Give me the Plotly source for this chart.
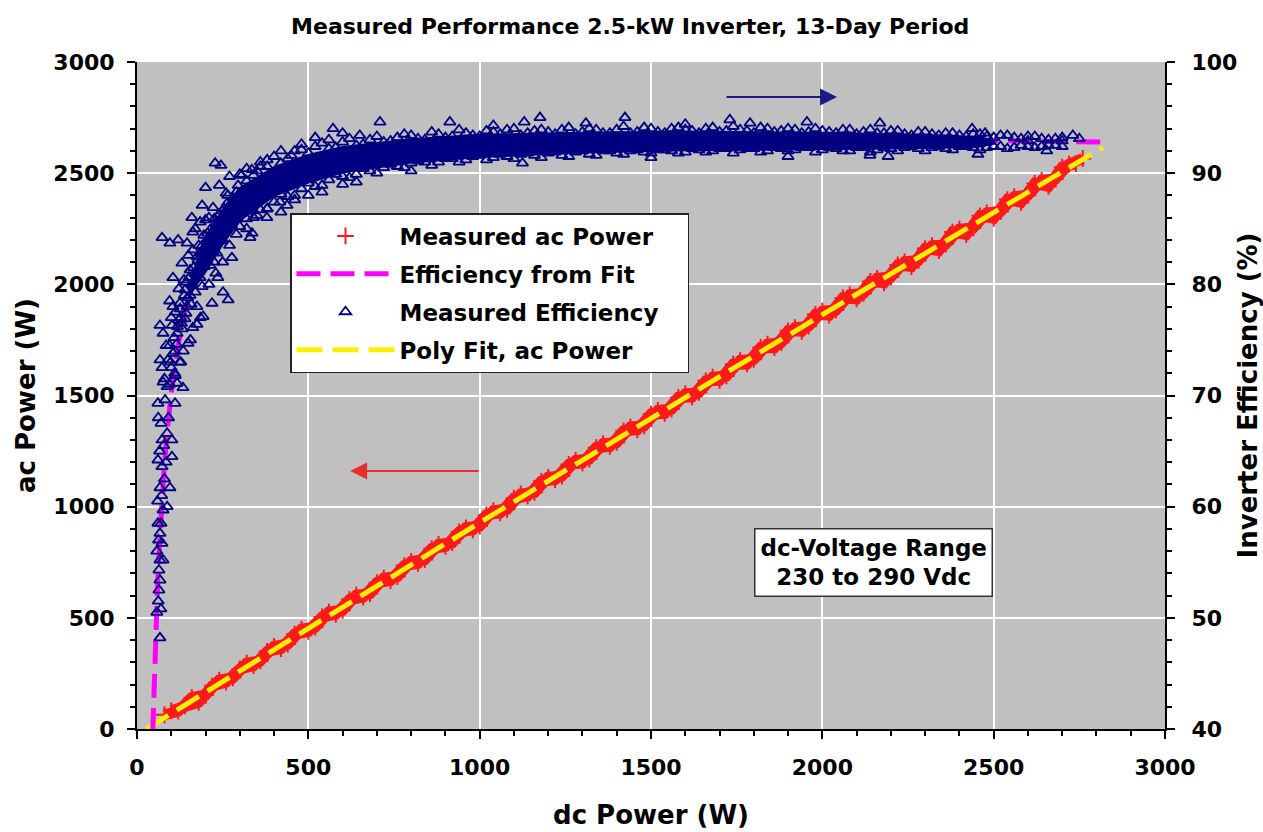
import plotly.graph_objects as go

# ---------------- data ----------------
# Measured ac power (W) vs dc power (W)
ac_dc = [80, 120, 160, 200, 240, 280, 320, 360, 400, 440, 480, 520, 560, 600, 640, 680,
         720, 760, 800, 840, 880, 920, 960, 1000, 1040, 1080, 1120, 1160, 1200, 1240, 1280,
         1320, 1360, 1400, 1440, 1480, 1520, 1560, 1600, 1640, 1680, 1720, 1760, 1800, 1840,
         1880, 1920, 1960, 2000, 2040, 2080, 2120, 2160, 2200, 2240, 2280, 2320, 2360, 2400,
         2440, 2480, 2520, 2560, 2600, 2640, 2680, 2720, 2760]
ac_meas = [64, 80, 141, 153, 220, 230, 296, 306, 372, 382, 449, 458, 526, 534, 602, 609,
           678, 686, 754, 762, 830, 838, 905, 913, 982, 988, 1057, 1064, 1132, 1138, 1208,
           1214, 1283, 1289, 1358, 1364, 1433, 1439, 1507, 1514, 1582, 1588, 1657, 1663, 1731,
           1738, 1805, 1812, 1879, 1885, 1953, 1959, 2027, 2033, 2101, 2107, 2174, 2181, 2248,
           2254, 2321, 2328, 2394, 2401, 2468, 2474, 2541, 2566]
ac_dc2 = [100, 140, 180, 220, 260, 300, 340, 380, 420, 460, 500, 540, 580, 620, 660, 700,
          740, 780, 820, 860, 900, 940, 980, 1020, 1060, 1100, 1140, 1180, 1220, 1260, 1300,
          1340, 1380, 1420, 1460, 1500, 1540, 1580, 1620, 1660, 1700, 1740, 1780, 1820, 1860,
          1900, 1940, 1980, 2020, 2060, 2100, 2140, 2180, 2220, 2260, 2300, 2340, 2380, 2420,
          2460, 2500, 2540, 2580, 2620, 2660, 2700, 2740]
ac_meas2 = [82, 104, 120, 194, 211, 270, 285, 349, 362, 427, 439, 504, 516, 582, 593, 658,
            668, 735, 745, 811, 821, 887, 896, 963, 972, 1038, 1048, 1114, 1122, 1190, 1197,
            1266, 1271, 1341, 1346, 1416, 1420, 1491, 1494, 1566, 1568, 1641, 1642, 1716, 1715,
            1791, 1789, 1865, 1862, 1939, 1935, 2013, 2007, 2087, 2080, 2161, 2152, 2235, 2224,
            2308, 2297, 2381, 2369, 2454, 2441, 2527, 2543]

# Poly fit of ac power
poly_dc = [27, 100, 200, 400, 600, 800, 1000, 1250, 1500, 1750, 2000, 2250, 2500, 2819]
poly_ac = [0, 70.2, 166.2, 357.7, 548.5, 738.5, 927.8, 1163.4, 1397.8, 1631.1, 1863.3,
           2094.3, 2324.1, 2615.7]

# Efficiency from fit (%)
fit_dc = [46, 50, 55, 60, 65, 70, 80, 90, 100, 120, 140, 170, 200, 250, 300, 400, 500,
          700, 1000, 1300, 1600, 2000, 2400, 2819]
fit_eff = [39.74, 44.25, 48.98, 52.91, 56.24, 59.10, 63.73, 67.33, 70.21, 74.52, 77.60,
           80.85, 83.12, 85.67, 87.35, 89.43, 90.64, 91.95, 92.78, 93.11, 93.21, 93.16,
           93.02, 92.79]

# Measured efficiency: outline of the solid (overlapping) part of the cloud
core_dc = [150, 200, 250, 300, 400, 500, 600, 800, 1000, 1300, 1600, 2000, 2300, 2450, 2500]
core_hi = [79.6, 84.2, 86.6, 88.6, 90.5, 91.6, 92.3, 93.0, 93.4, 93.6, 93.7, 93.6, 93.4,
           93.2, 92.8]
core_lo = [79.0, 81.2, 83.7, 85.8, 88.0, 89.2, 90.1, 91.0, 91.5, 91.9, 92.1, 92.2, 92.3,
           92.4, 92.7]

# Measured efficiency: upper / lower edges of the cloud
edge_dc = [300, 340, 380, 420, 460, 500, 540, 580, 620, 660, 700, 740, 780, 820, 860, 900,
           940, 980, 1020, 1060, 1100, 1140, 1180, 1220, 1260, 1300, 1340, 1380, 1420, 1460,
           1500, 1540, 1580, 1620, 1660, 1700, 1740, 1780, 1820, 1860, 1900, 1940, 1980, 2020,
           2060, 2100, 2140, 2180, 2220, 2260, 2300, 2340, 2380, 2420, 2460, 2500, 2540, 2580,
           2620, 2660, 2700]
edge_hi = [89.9, 89.8, 91.2, 90.9, 92.0, 91.8, 92.7, 92.3, 93.1, 92.6, 93.3, 92.9, 93.5,
           93.1, 93.7, 93.2, 93.9, 93.4, 93.8, 93.5, 94.0, 93.6, 93.9, 93.5, 94.1, 93.7, 93.9,
           93.6, 94.2, 93.7, 94.0, 93.6, 94.1, 93.8, 94.0, 93.7, 94.2, 93.8, 94.1, 93.7, 94.0,
           93.6, 94.0, 93.7, 93.9, 93.5, 93.9, 93.6, 93.8, 93.4, 93.7, 93.4, 93.6, 93.3, 93.5,
           93.2, 93.4, 93.1, 93.3, 93.0, 93.2]
edge_lo = [85.2, 86.6, 86.8, 88.1, 88.0, 89.1, 88.9, 89.9, 89.6, 90.4, 90.0, 90.8, 90.5,
           91.1, 90.7, 91.3, 91.0, 91.5, 91.2, 91.7, 91.3, 91.8, 91.4, 91.9, 91.5, 92.0, 91.6,
           92.0, 91.7, 92.1, 91.8, 92.1, 91.8, 92.2, 91.9, 92.2, 91.8, 92.2, 91.9, 92.3, 92.0,
           92.3, 91.9, 92.3, 92.0, 92.3, 91.9, 92.3, 92.0, 92.4, 92.0, 92.4, 92.1, 92.4, 92.1,
           92.4, 92.2, 92.5, 92.3, 92.5, 92.4]
edge2_dc = [320, 360, 400, 440, 480, 520, 560, 600, 640, 680, 720, 760, 800, 840, 880, 920,
            960, 1000, 1040, 1080, 1120, 1160, 1200, 1240, 1280, 1320, 1360, 1400, 1440, 1480,
            1520, 1560, 1600, 1640, 1680, 1720, 1760, 1800, 1840, 1880, 1920, 1960, 2000, 2040,
            2080, 2120, 2160, 2200, 2240, 2280, 2320, 2360, 2400, 2440, 2480, 2520, 2560, 2600,
            2640, 2680]
edge2_hi = [90.4, 90.6, 91.5, 91.3, 92.1, 92.4, 92.2, 92.8, 92.5, 93.0, 92.8, 93.2, 93.4,
            93.0, 93.5, 93.3, 93.6, 93.3, 93.7, 93.9, 93.4, 93.8, 93.7, 93.9, 93.5, 94.0, 93.6,
            93.9, 93.6, 94.1, 93.7, 94.0, 93.9, 93.6, 94.1, 93.8, 93.9, 93.6, 94.0, 93.8, 93.9,
            93.7, 93.8, 93.6, 93.9, 93.7, 93.6, 93.8, 93.5, 93.7, 93.5, 93.6, 93.4, 93.5, 93.3,
            93.4, 93.2, 93.3, 93.1, 93.1]
edge2_lo = [85.9, 86.7, 87.4, 87.9, 88.6, 88.8, 89.4, 89.7, 89.9, 90.2, 90.5, 90.6, 90.9,
            91.0, 91.0, 91.3, 91.2, 91.6, 91.4, 91.5, 91.7, 91.6, 91.8, 91.6, 91.9, 91.7, 92.0,
            91.8, 92.0, 91.9, 92.1, 92.0, 91.9, 92.1, 92.0, 92.2, 92.1, 92.2, 92.0, 92.2, 92.1,
            92.3, 92.1, 92.2, 92.0, 92.3, 92.1, 92.2, 92.3, 92.2, 92.3, 92.2, 92.4, 92.3, 92.3,
            92.4, 92.3, 92.4, 92.4, 92.5]

# Measured efficiency: low-power part of the cloud
low_dc = [61, 67, 73, 67, 76, 64, 67, 64, 67, 88, 76, 67, 96, 61, 73, 102, 73, 88, 102, 61,
          82, 111, 88, 134, 76, 117, 67, 90, 125, 73, 149, 67, 76, 102, 117, 163, 193, 105,
          125, 146, 175, 219, 251, 266, 105, 131, 155, 184, 236, 213, 163, 204, 233, 277, 73,
          96, 120, 146, 184, 163, 213, 242, 336, 330, 190, 222, 263, 301, 379, 350, 417, 438,
          95, 110, 130, 140, 100, 112, 128, 155, 140, 160, 170, 190, 200, 175, 150, 225, 190,
          215, 250, 260, 230, 200, 270, 285, 240, 210, 310, 330, 360, 290, 320, 260, 240, 228,
          245, 200, 270, 350, 380, 400,
          58, 62, 70, 58, 63, 70, 60, 72, 80, 66, 78, 85, 70, 92, 62, 80, 95, 100, 85, 105,
          118, 95, 122, 137, 148, 165, 180, 195, 160, 170, 255, 265, 280, 295, 305, 335, 360,
          420, 450, 480, 520, 560, 600, 650, 135, 110, 128, 156, 175, 185, 210, 230, 250, 270,
          290, 320, 340, 380, 420, 460, 500, 540, 600, 640,
          98, 108, 115, 126, 138, 143, 152, 168, 178, 188, 198, 206, 216, 226, 238, 248, 258,
          272, 282, 112, 122, 132, 144, 158, 172, 186, 196, 208, 222, 236, 246, 262, 276]
low_eff = [58.5, 57.6, 56.7, 55.2, 55.2, 54.3, 53.4, 52.5, 48.2, 60.0, 59.7, 61.7, 61.7,
           64.2, 63.6, 64.5, 66.0, 66.6, 66.0, 69.3, 69.6, 69.3, 70.8, 70.7, 71.2, 71.1, 73.2,
           73.2, 73.0, 72.5, 74.7, 76.3, 75.6, 76.3, 75.6, 76.1, 77.1, 78.0, 78.3, 78.0, 78.0,
           78.3, 79.3, 78.6, 80.6, 81.9, 81.3, 80.6, 80.6, 81.7, 83.1, 83.3, 82.8, 82.4, 84.2,
           83.7, 84.0, 83.7, 85.6, 84.7, 84.9, 84.6, 84.6, 84.2, 87.1, 86.9, 87.3, 86.9, 86.0,
           86.2, 87.4, 87.1, 74.5, 74.0, 76.5, 76.9, 77.0, 77.5, 77.0, 79.0, 79.5, 80.0, 79.3,
           79.8, 82.0, 82.5, 82.6, 82.0, 83.5, 83.8, 84.0, 85.2, 85.5, 85.8, 86.0, 86.5, 86.3,
           86.0, 87.5, 88.3, 88.8, 88.3, 89.3, 88.2, 88.9, 90.9, 90.7, 88.7, 89.7, 90.2, 90.6,
           89.8,
           50.5, 51.5, 50.8, 56.0, 57.0, 58.5, 60.5, 61.0, 62.5, 65.0, 65.5, 64.0, 67.5, 68.0,
           68.0, 71.5, 71.0, 72.5, 74.5, 73.8, 76.2, 78.5, 79.6, 80.4, 78.8, 81.5, 83.5, 84.4,
           86.0, 85.0, 86.8, 88.0, 87.8, 88.9, 89.8, 90.3, 91.0, 92.0, 91.6, 92.6, 93.2, 93.0,
           93.6, 93.4, 74.0, 72.0, 73.0, 75.0, 76.4, 77.0, 80.0, 81.0, 82.0, 83.5, 84.5, 85.0,
           86.0, 86.8, 86.5, 87.6, 88.0, 88.3, 89.0, 89.2,
           73.0, 75.2, 74.6, 77.8, 79.0, 77.4, 80.6, 81.0, 82.2, 83.0, 82.4, 84.6, 83.4, 85.9,
           84.9, 86.6, 85.6, 87.2, 86.4, 71.8, 76.8, 76.0, 80.2, 78.2, 80.9, 82.8, 81.6, 84.1,
           82.9, 84.8, 83.9, 86.1, 85.3]

# Measured efficiency: scattered outliers above / below the band
out_dc = [572, 709, 913, 1040, 1130, 1176, 1310, 1424, 1600, 1730, 1789, 1955, 2168, 2437,
          2475, 800, 1125, 1500, 1900, 2139, 2192, 2454, 2600, 2655, 2700, 2731, 2750]
out_eff = [94.0, 94.6, 94.6, 94.3, 94.6, 95.0, 94.5, 95.0, 94.4, 94.8, 94.5, 94.6, 94.5,
           94.0, 93.6, 90.2, 90.9, 91.4, 91.5, 91.6, 91.5, 91.7, 92.9, 92.0, 92.9, 93.4, 93.1]

# ---------------- styling constants ----------------
NAVY = "#000080"
RED = "#ff1a1a"
MAGENTA = "#ff00ff"
YELLOW = "#ffee00"
FONT = "DejaVu Sans"

fig = go.Figure()

# Efficiency from fit (magenta, under the triangles)
fig.add_trace(go.Scatter(
    x=fit_dc, y=fit_eff, yaxis="y2", mode="lines", name="Efficiency from Fit",
    line=dict(color=MAGENTA, width=5, dash="24px,10px"),
    legendgroup="g2", legendrank=2))

# solid overlapping part of the measured efficiency cloud
fig.add_trace(go.Scatter(
    x=core_dc + core_dc[::-1], y=core_hi + core_lo[::-1], yaxis="y2",
    mode="lines", fill="toself", fillcolor=NAVY, line=dict(color=NAVY, width=3),
    showlegend=False, legendgroup="g3", hoverinfo="skip"))

# Measured efficiency triangles
eff_x = edge_dc + edge_dc + edge2_dc + edge2_dc + low_dc + out_dc
eff_y = edge_hi + edge_lo + edge2_hi + edge2_lo + low_eff + out_eff
fig.add_trace(go.Scatter(
    x=eff_x, y=eff_y, yaxis="y2", mode="markers", name="Measured Efficiency\u00a0\u00a0\u00a0",
    marker=dict(symbol="triangle-up-open", size=10, color=NAVY, line=dict(width=1.8, color=NAVY)),
    legendgroup="g3", legendrank=3))

# Measured ac power: band underlay + crosses
fig.add_trace(go.Scatter(
    x=ac_dc, y=ac_meas, mode="lines", line=dict(color=RED, width=11),
    showlegend=False, legendgroup="g1", hoverinfo="skip"))
fig.add_trace(go.Scatter(
    x=ac_dc2, y=ac_meas2, mode="lines", line=dict(color=RED, width=11),
    showlegend=False, legendgroup="g1", hoverinfo="skip"))
fig.add_trace(go.Scatter(
    x=ac_dc + ac_dc2, y=ac_meas + ac_meas2, mode="markers", name="Measured ac Power",
    marker=dict(symbol="cross-thin-open", size=12, color=RED, line=dict(width=2, color=RED)),
    legendgroup="g1", legendrank=1))

# Poly fit ac power (yellow dashed)
fig.add_trace(go.Scatter(
    x=poly_dc, y=poly_ac, mode="lines", name="Poly Fit, ac Power",
    line=dict(color=YELLOW, width=5, dash="26px,10px"),
    legendgroup="g4", legendrank=4))

tickfont = dict(family=FONT, size=22, color="black", weight="bold")
titlefont = dict(family=FONT, size=26, color="black", weight="bold")

axis_common = dict(
    showline=True, linecolor="black", linewidth=2,
    ticks="outside", ticklen=8, tickwidth=1.5, tickcolor="black",
    tickfont=tickfont, zeroline=False,
)

fig.update_layout(
    width=1263, height=832,
    margin=dict(l=137, r=98, t=62, b=103),
    paper_bgcolor="white", plot_bgcolor="#c0c0c0",
    template="none",
    title=dict(text="<b>Measured Performance 2.5-kW Inverter, 13-Day Period</b>",
               x=0.499, xref="container", xanchor="center",
               y=1 - 26 / 832, yref="container", yanchor="middle",
               font=dict(family=FONT, size=22, color="black")),
    xaxis=dict(range=[0, 3000], dtick=500, showgrid=True, gridcolor="white", gridwidth=1.5,
               minor=dict(dtick=100, ticks="outside", ticklen=5, tickcolor="black", showgrid=False),
               title=dict(text="dc Power (W)", font=titlefont, standoff=26),
               ticklabelstandoff=10, **axis_common),
    yaxis=dict(range=[0, 3000], dtick=500, showgrid=True, gridcolor="white", gridwidth=1.5,
               minor=dict(dtick=100, ticks="outside", ticklen=5, tickcolor="black", showgrid=False),
               title=dict(text="ac Power (W)", font=titlefont, standoff=10),
               ticklabelstandoff=8, **axis_common),
    yaxis2=dict(range=[40, 100], dtick=10, overlaying="y", side="right", showgrid=False,
                minor=dict(dtick=2, ticks="outside", ticklen=5, tickcolor="black", showgrid=False),
                title=dict(text="Inverter Efficiency (%)", font=titlefont, standoff=10),
                ticklabelstandoff=12, **axis_common),
    legend=dict(x=(290 - 137) / 1028, y=(729 - 213) / 667, xanchor="left", yanchor="top",
                bgcolor="white", bordercolor="#222222", borderwidth=1.5,
                font=dict(family=FONT, size=23, color="black", weight="bold"),
                traceorder="grouped", tracegroupgap=5, itemwidth=98),
    showlegend=True,
)

# direction arrows
fig.add_annotation(x=2043, y=2843, ax=1716, ay=2843, xref="x", yref="y", axref="x", ayref="y",
                   text="", showarrow=True, arrowhead=2, arrowsize=1.7, arrowwidth=2,
                   arrowcolor="#1a1a80")
fig.add_annotation(x=622, y=1160, ax=1001, ay=1160, xref="x", yref="y", axref="x", ayref="y",
                   text="", showarrow=True, arrowhead=2, arrowsize=1.7, arrowwidth=2,
                   arrowcolor="#e8302a")

# text box
fig.add_annotation(x=2148, y=751, xref="x", yref="y", showarrow=False,
                   text="dc-Voltage Range<br>230 to 290 Vdc",
                   font=dict(family=FONT, size=23, color="black", weight="bold"),
                   bgcolor="white", bordercolor="#333333", borderwidth=1.5, borderpad=5)

fig.write_html("out.html")
